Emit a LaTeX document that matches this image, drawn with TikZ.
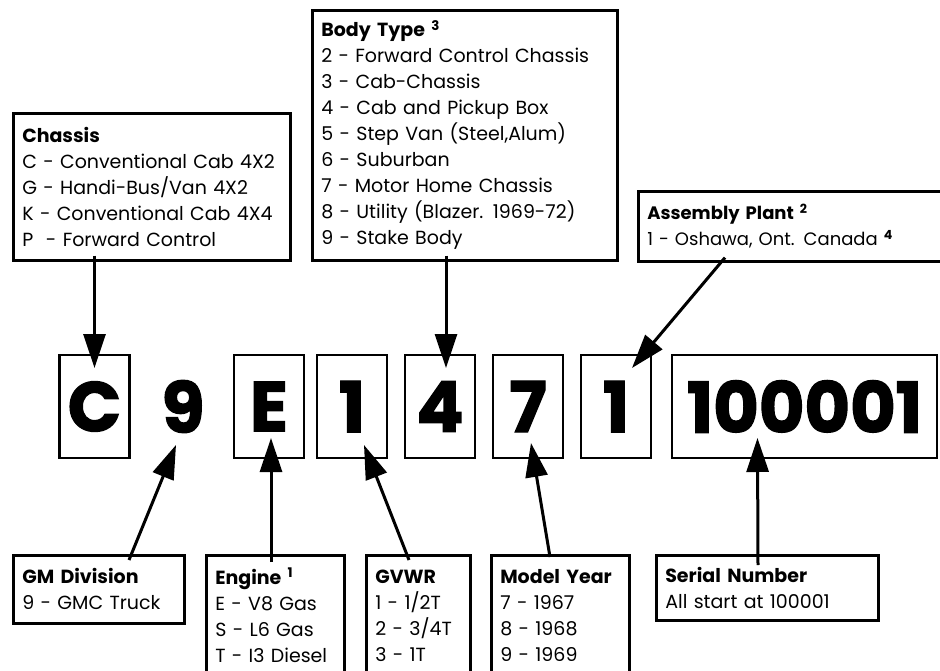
\documentclass[tikz,border=0pt]{standalone}
\usepackage{fontspec}
\setmainfont{Poppins}
\newfontfamily\heavyfont{Poppins}[BoldFeatures={FakeBold=2}]
\usetikzlibrary{arrows.meta,positioning}

\newcommand{\infosize}{\fontsize{19}{26}\selectfont}
\newcommand{\codesize}{\fontsize{70}{70}\selectfont\heavyfont\bfseries}

\begin{document}
\begin{tikzpicture}[x=1pt,y=-1pt,>={Triangle[length=34pt,width=22pt]},
    infobox/.style={draw,line width=2.6pt,anchor=north west,align=left,inner xsep=9pt,inner ysep=6pt,font=\infosize},
    codebox/.style={draw,line width=2.6pt,minimum width=70pt,minimum height=103pt,inner sep=0pt,outer sep=0pt,font=\codesize},
    pointer/.style={->,line width=3pt}]
  \useasboundingbox (0,0) rectangle (940,671);
  \clip (0,0) rectangle (940,671);

  % boxes above the number
  \node[infobox,text width=259pt,minimum height=147pt] (chassis) at (12,112)
    {\textbf{Chassis}\\C - Conventional Cab 4X2\\G - Handi-Bus/Van 4X2\\K - Conventional Cab 4X4\\P\ \ - Forward Control};
  \node[infobox,text width=287pt,minimum height=250pt] (bodytype) at (311,9)
    {\textbf{Body Type \textsuperscript{3}}\\2 - Forward Control Chassis\\3 - Cab-Chassis\\4 - Cab and Pickup Box\\5 - Step Van (Steel,Alum)\\6 - Suburban\\7 - Motor Home Chassis\\8 - Utility (Blazer. 1969-72)\\9 - Stake Body};
  \node[infobox,text width=302pt,minimum height=70pt,font=\fontsize{18}{26}\selectfont] (plant) at (637,190)
    {\textbf{Assembly Plant \textsuperscript{2}}\\1 - Oshawa, Ont. Canada \textbf{\textsuperscript{4}}};

  % the number itself
  \node[codebox] (chass) at (94.5,406.5) {C};
  \node[font=\codesize,inner sep=0pt] (div) at (183,406.5) {9};
  \node[codebox] (eng) at (269,406.5) {E};
  \node[codebox] (gvw) [right=13pt of eng] {1};
  \node[codebox] (body) [right=18pt of gvw] {4};
  \node[codebox] (year) [right=18pt of body] {7};
  \node[codebox] (plnt) [right=18pt of year] {1};
  \node[codebox,minimum width=265pt] (serial) [right=21pt of plnt] {100001};

  % boxes below the number
  \node[infobox,text width=153pt,minimum height=68pt] (division) at (12,554)
    {\textbf{GM Division}\\9 - GMC Truck};
  \node[infobox,text width=120pt,minimum height=120pt] (engine) at (205,554)
    {\textbf{Engine \textsuperscript{1}}\\E - V8 Gas\\S - L6 Gas\\T - I3 Diesel};
  \node[infobox,text width=86pt,minimum height=120pt] (weight) at (365,554)
    {\textbf{GVWR}\\1 - 1/2T\\2 - 3/4T\\3 - 1T};
  \node[infobox,text width=120pt,minimum height=120pt] (model) at (490,554)
    {\textbf{Model Year}\\7 - 1967\\8 - 1968\\9 - 1969};
  \node[infobox,text width=204pt,minimum height=65pt] (number) at (655,554)
    {\textbf{Serial Number}\\All start at 100001};

  \draw[pointer] ([yshift=6pt]chassis.south -| chass.north) -- ([yshift=-13pt]chass.north);
  \draw[pointer] ([xshift=6pt,yshift=6pt]bodytype.south -| body.north) -- ([xshift=6pt,yshift=-13pt]body.north);
  \draw[pointer] ([xshift=88pt,yshift=5pt]plant.south west) -- ([xshift=16pt,yshift=-13pt]plnt.north);

  \draw[pointer] ([xshift=117pt,yshift=-6pt]division.north west) -- ([xshift=-7pt,yshift=-12pt]div.south);
  \draw[pointer] ([xshift=66pt,yshift=-8pt]engine.north west) -- ([xshift=2pt,yshift=20pt]eng.south);
  \draw[pointer] ([xshift=44pt,yshift=-6pt]weight.north west) -- ([xshift=12pt,yshift=13pt]gvw.south);
  \draw[pointer] ([xshift=60pt,yshift=-3pt]model.north west) -- ([xshift=3pt,yshift=15pt]year.south);
  \draw[pointer] ([xshift=103pt,yshift=-11pt]number.north west) -- ([xshift=-47pt,yshift=20pt]serial.south);
\end{tikzpicture}
\end{document}
